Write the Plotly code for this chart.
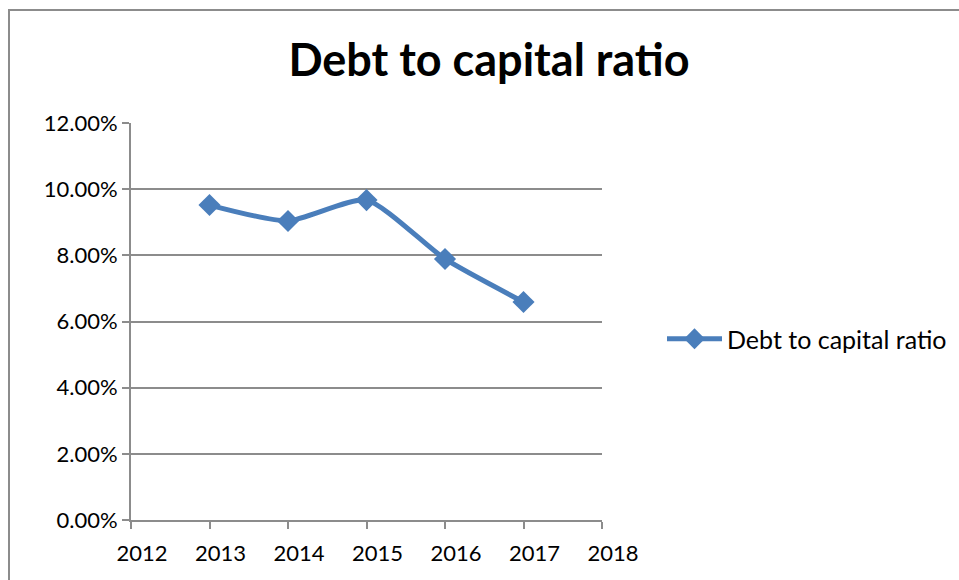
import plotly.graph_objects as go

years = [2013, 2014, 2015, 2016, 2017]
ratio = [0.0952, 0.0904, 0.0967, 0.0789, 0.0659]
series_name = "Debt to capital ratio"
title = "Debt to capital ratio"
y_ticks = [0, 0.02, 0.04, 0.06, 0.08, 0.10, 0.12]
x_ticks = [2012, 2013, 2014, 2015, 2016, 2017, 2018]

W, H = 959, 580
L, R, T, B = 131, 357, 123, 60

pw = W - L - R
ph = H - T - B
def px(x): return (x - L) / pw
def py(y): return (H - B - y) / ph

fig = go.Figure()
fig.add_trace(go.Scatter(
    x=years, y=ratio, name=series_name, mode="lines+markers",
    line=dict(color="#4A7EBB", width=5, shape="spline", smoothing=0.6),
    marker=dict(symbol="diamond", size=17, color="#4A7EBB"),
))

font = "Lato, Open Sans, sans-serif"
fig.update_layout(
    width=W, height=H,
    margin=dict(l=L, r=R, t=T, b=B, autoexpand=False),
    paper_bgcolor="white", plot_bgcolor="white",
    title=dict(text="<b>" + title + "</b>", x=489 / W, xanchor="center",
               y=1 - 60 / H, yanchor="middle",
               font=dict(family=font, size=45, color="black")),
    showlegend=True,
    legend=dict(x=px(662), xanchor="left", y=py(339), yanchor="middle",
                font=dict(family=font, size=25, color="black"),
                bgcolor="rgba(0,0,0,0)", itemwidth=55),
    font=dict(family=font, color="black"),
)
fig.update_xaxes(range=[2012, 2018], tickvals=x_ticks, ticktext=[str(v) for v in x_ticks],
                 automargin=False,
                 showgrid=False, zeroline=False, showline=True, linecolor="#8C8C8C", linewidth=2,
                 ticks="outside", ticklen=7, tickcolor="#8C8C8C", tickwidth=2,
                 ticklabelshift=11, ticklabelstandoff=6,
                 tickfont=dict(family=font, size=22, color="black"))
fig.update_yaxes(range=[0, 0.12], tickvals=y_ticks, tickformat=".2%",
                 automargin=False,
                 showgrid=True, gridcolor="#8C8C8C", gridwidth=2, zeroline=False,
                 showline=True, linecolor="#8C8C8C", linewidth=2,
                 ticks="outside", ticklen=7, tickcolor="#8C8C8C", tickwidth=2,
                 tickfont=dict(family=font, size=22, color="black"))

fig.add_shape(type="rect", xref="paper", yref="paper",
              x0=px(9), x1=px(975), y0=py(600), y1=py(10),
              line=dict(color="#8C8C8C", width=2), fillcolor="rgba(0,0,0,0)", layer="below")

fig.write_html("out.html")
